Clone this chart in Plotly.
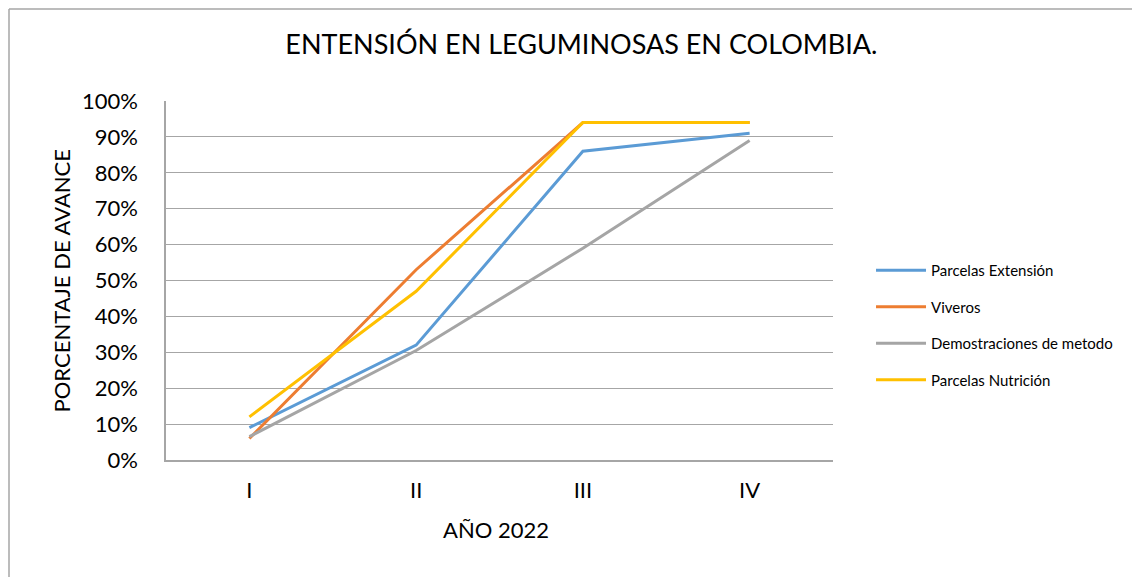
import plotly.graph_objects as go

# Datos (trimestres del año 2022)
trimestres = ['I', 'II', 'III', 'IV']
parcelas_extension = [0.09, 0.32, 0.86, 0.91]
viveros = [0.06, 0.53, 0.94, 0.94]
demostraciones = [0.065, 0.305, 0.59, 0.89]
parcelas_nutricion = [0.12, 0.47, 0.94, 0.94]

series = [
    ('Parcelas Extensión', parcelas_extension, '#5B9BD5'),
    ('Viveros', viveros, '#ED7D31'),
    ('Demostraciones de metodo', demostraciones, '#A5A5A5'),
    ('Parcelas Nutrición', parcelas_nutricion, '#FFC000'),
]

fuente = 'Lato, Open Sans, sans-serif'
gris = '#a6a6a6'

fig = go.Figure()
for i, (nombre, valores, color) in enumerate(series):
    fig.add_trace(go.Scatter(
        x=trimestres,
        y=valores,
        mode='lines',
        name=nombre,
        legendgroup=f'g{i}',
        line=dict(color=color, width=3),
    ))

# el área de trazado ocupa 667 x 359 px
ancho_plot = 667
alto_plot = 359

fig.update_layout(
    width=1140,
    height=577,
    margin=dict(l=158, r=315, t=93, b=125),
    paper_bgcolor='white',
    plot_bgcolor='white',
    font=dict(family=fuente, color='#000000'),
    title=dict(
        text='ENTENSIÓN EN LEGUMINOSAS EN COLOMBIA.',
        x=0.503, xanchor='center',
        y=1 - 37 / 577, yanchor='middle',
        font=dict(size=27, family=fuente),
    ),
    showlegend=True,
    legend=dict(
        x=1.057, xanchor='left',
        y=0.376, yanchor='middle',
        font=dict(size=15, family=fuente),
        tracegroupgap=14,
        itemwidth=50,
        bgcolor='rgba(0,0,0,0)',
    ),
    xaxis=dict(
        type='category',
        range=[-0.5, 3.5],
        showgrid=False,
        showline=True,
        linecolor=gris,
        linewidth=1.5,
        ticks='',
        tickfont=dict(size=22, family=fuente),
        ticklabelstandoff=10,
        zeroline=False,
    ),
    yaxis=dict(
        range=[0, 1],
        dtick=0.1,
        tickformat='.0%',
        showgrid=True,
        gridcolor=gris,
        gridwidth=1,
        showline=True,
        linecolor=gris,
        linewidth=1.5,
        ticks='',
        tickfont=dict(size=22, family=fuente),
        ticklabelstandoff=22,
        zeroline=False,
    ),
    annotations=[
        dict(
            text='AÑO 2022', xref='paper', yref='paper',
            x=0.495, y=-0.194, xanchor='center', yanchor='middle',
            showarrow=False, font=dict(size=22, family=fuente),
        ),
        dict(
            text='PORCENTAJE DE AVANCE', xref='paper', yref='paper',
            x=-0.156, y=0.5, xanchor='center', yanchor='middle',
            textangle=-90, showarrow=False, font=dict(size=22, family=fuente),
        ),
    ],
    shapes=[
        # borde exterior del gráfico (arriba e izquierda)
        dict(type='line', xref='paper', yref='paper',
             x0=-157 / ancho_plot, x1=1.5,
             y0=1 + 92 / alto_plot, y1=1 + 92 / alto_plot,
             line=dict(color=gris, width=1.5)),
        dict(type='line', xref='paper', yref='paper',
             x0=-157 / ancho_plot, x1=-157 / ancho_plot,
             y0=1 + 92 / alto_plot, y1=-0.5,
             line=dict(color=gris, width=1.5)),
    ],
)

fig.write_html('out.html')
